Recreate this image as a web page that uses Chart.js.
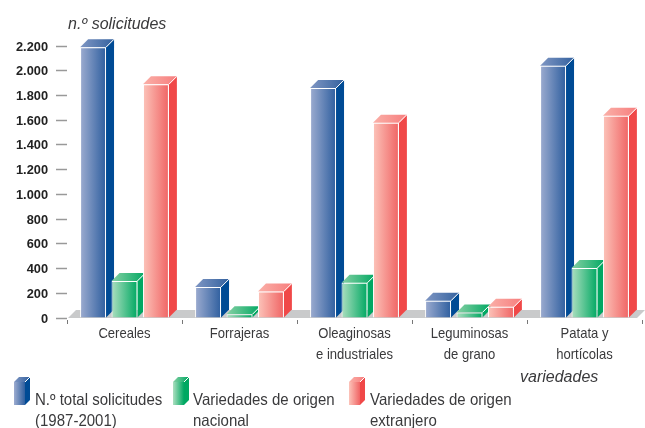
<!DOCTYPE html>
<html>
<head>
<meta charset="utf-8">
<style>
  body { margin: 0; background: #fff; }
  canvas { display: block; }
</style>
<script src="https://cdn.jsdelivr.net/npm/chart.js@4"></script>
</head>
<body>
<canvas id="chart" width="645" height="428"></canvas>
<script>
const categories = ["Cereales", "Forrajeras", ["Oleaginosas", "e industriales"], ["Leguminosas", "de grano"], ["Patata y", "hortícolas"]];
const totalValues = [2190, 250, 1860, 140, 2040];
const nationalValues = [300, 30, 285, 45, 405];
const foreignValues = [1890, 215, 1580, 90, 1635];
const yTickLabels = ["0", "200", "400", "600", "800", "1.000", "1.200", "1.400", "1.600", "1.800", "2.000", "2.200"];
const seriesNames = [["N.º total solicitudes", "(1987-2001)"], ["Variedades de origen", "nacional"], ["Variedades de origen", "extranjero"]];

const palettes = [
  { front: ["#9dacd0", "#2f5f9f"], top: ["#7f96c3", "#34629f"], side: "#004b95" },
  { front: ["#addfc0", "#00a862"], top: ["#86d0a4", "#00a862"], side: "#00a862" },
  { front: ["#fcc4ba", "#f06464"], top: ["#fab0a8", "#f77e7e"], side: "#f04848" },
];
const DEPTH = 8;
const CATEGORY_PCT = 0.82;
const BAR_PCT = 0.825;
const TEXT = "#3a3a3c";
const FONT = "'Liberation Sans', Arial, sans-serif";

function hGradient(ctx, x0, x1, colors) {
  const g = ctx.createLinearGradient(x0, 0, x1, 0);
  g.addColorStop(0, colors[0]);
  g.addColorStop(1, colors[1]);
  return g;
}

// the labels are set in a narrowed sans, so squeeze them horizontally
function narrowText(ctx, text, x, y, squeeze) {
  ctx.fillText(text, x, y, ctx.measureText(text).width * squeeze);
}

// front face colour, worked out from the category scale
function frontFill(context) {
  const { chart, dataIndex, datasetIndex } = context;
  const palette = palettes[datasetIndex];
  const scale = chart.scales.x;
  if (!scale || !chart.chartArea || !Number.isFinite(dataIndex)) return palette.front[1];
  const slot = (scale.width / categories.length) * CATEGORY_PCT / 3;
  const center = scale.getPixelForValue(dataIndex) + (datasetIndex - 1) * slot;
  const half = slot * BAR_PCT / 2;
  if (!Number.isFinite(center)) return palette.front[1];
  return hGradient(chart.ctx, center - half, center + half, palette.front);
}

// top and right faces of a box whose front is left..right, top..bottom
function drawBoxFaces(ctx, left, right, top, bottom, depth, palette) {
  ctx.fillStyle = palette.side;
  ctx.beginPath();
  ctx.moveTo(right, top);
  ctx.lineTo(right + depth, top - depth);
  ctx.lineTo(right + depth, bottom - depth);
  ctx.lineTo(right, bottom);
  ctx.closePath();
  ctx.fill();

  ctx.fillStyle = hGradient(ctx, left, right + depth, palette.top);
  ctx.beginPath();
  ctx.moveTo(left, top);
  ctx.lineTo(left + depth, top - depth);
  ctx.lineTo(right + depth, top - depth);
  ctx.lineTo(right, top);
  ctx.closePath();
  ctx.fill();

  ctx.strokeStyle = "#fff";
  ctx.lineWidth = 1;
  ctx.beginPath();
  ctx.moveTo(right, top);
  ctx.lineTo(right + depth, top - depth);
  ctx.stroke();
}

const boxes3d = {
  id: "boxes3d",
  beforeDatasetsDraw(chart) {
    const { ctx, chartArea } = chart;
    const bottom = chartArea.bottom;

    ctx.save();
    ctx.fillStyle = "#c9cacb";
    ctx.beginPath();
    ctx.moveTo(chartArea.left + 1, bottom);
    ctx.lineTo(chartArea.left + 1 + DEPTH, bottom - DEPTH);
    ctx.lineTo(chartArea.right + 3, bottom - DEPTH);
    ctx.lineTo(chartArea.right + 3 - DEPTH, bottom);
    ctx.closePath();
    ctx.fill();

    chart.data.datasets.forEach((ds, i) => {
      chart.getDatasetMeta(i).data.forEach((bar) => {
        const half = bar.width / 2;
        drawBoxFaces(ctx, bar.x - half, bar.x + half, bar.y, bar.base, DEPTH, palettes[i]);
      });
    });
    ctx.restore();
  },
  afterDraw(chart) {
    const { ctx } = chart;
    ctx.save();
    ctx.fillStyle = TEXT;
    ctx.textBaseline = "alphabetic";

    // category labels
    ctx.textAlign = "center";
    ctx.font = "14.5px " + FONT;
    categories.forEach((label, i) => {
      [].concat(label).forEach((line, n) => {
        narrowText(ctx, line, chart.scales.x.getPixelForValue(i), 337.5 + n * 21, 0.9);
      });
    });
    ctx.textAlign = "left";

    // axis captions
    ctx.font = "italic 16px " + FONT;
    ctx.fillText("n.º solicitudes", 68, 29);
    ctx.fillText("variedades", 520, 381.5);

    // legend
    const legendX = [14, 173, 349];
    const legendTextX = [35, 193, 370];
    ctx.font = "16.5px " + FONT;
    seriesNames.forEach((lines, i) => {
      drawBoxFaces(ctx, legendX[i], legendX[i] + 11, 382, 405, 5, palettes[i]);
      ctx.fillStyle = hGradient(ctx, legendX[i], legendX[i] + 11, palettes[i].front);
      ctx.fillRect(legendX[i], 382, 11, 23);
      ctx.fillStyle = TEXT;
      narrowText(ctx, lines[0], legendTextX[i], 405, 0.91);
      narrowText(ctx, lines[1], legendTextX[i], 426, 0.91);
    });
    ctx.restore();
  },
};

new Chart(document.getElementById("chart"), {
  type: "bar",
  plugins: [boxes3d],
  data: {
    labels: categories,
    datasets: [totalValues, nationalValues, foreignValues].map((values, i) => ({
      label: seriesNames[i].join(" "),
      data: values,
      backgroundColor: frontFill,
      borderColor: "#fff",
      borderWidth: { top: 1, left: 1, right: 1, bottom: 0 },
      borderSkipped: false,
      categoryPercentage: CATEGORY_PCT,
      barPercentage: BAR_PCT,
    })),
  },
  options: {
    responsive: false,
    animation: false,
    layout: { padding: { top: 46, right: 3, left: 0, bottom: 0 } },
    plugins: { legend: { display: false }, tooltip: { enabled: false } },
    scales: {
      x: {
        afterFit: (scale) => { scale.height = 110; },
        border: { display: false },
        grid: {
          drawOnChartArea: false,
          tickLength: 6,
          tickColor: "#777",
          tickWidth: 1,
          tickBorderDash: [0, 2, 4, 20],
        },
        ticks: { display: false },
      },
      y: {
        min: 0,
        max: 2200,
        afterFit: (scale) => { scale.width = 67; },
        afterBuildTicks: (scale) => {
          scale.ticks = yTickLabels.map((_, i) => ({ value: i * 200 }));
        },
        border: { display: false },
        grid: {
          drawOnChartArea: false,
          tickLength: 11,
          tickColor: "#999",
          tickWidth: 1.5,
        },
        ticks: {
          color: "#222",
          padding: 8,
          labelOffset: 1,
          font: { family: FONT, size: 12.8, weight: "bold" },
          callback: (value, index) => yTickLabels[index],
        },
      },
    },
  },
});
</script>
</body>
</html>
